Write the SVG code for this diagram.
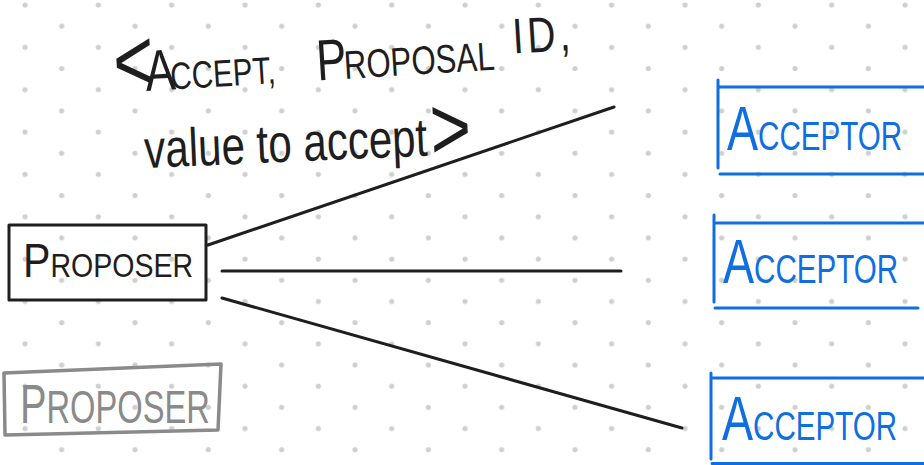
<svg xmlns="http://www.w3.org/2000/svg" width="924" height="465" viewBox="0 0 924 465">
<defs>
<pattern id="dots" x="0" y="0" width="73.333" height="42.353" patternUnits="userSpaceOnUse">
<circle cx="25" cy="5" r="2.6" fill="#cfcfcf"/>
<circle cx="61.667" cy="26.18" r="2.6" fill="#cfcfcf"/>
</pattern>
<style>
.t{font-family:"Liberation Sans",Arial,sans-serif;}
.ink{fill:#1e1e1e}
.gray{fill:#8a8a8a}
.blue{fill:#0f6fe0}
.line{fill:none;stroke-width:3;stroke-linecap:round;stroke-linejoin:round}
.k{stroke:#1e1e1e}
.g{stroke:#8a8a8a;stroke-width:3.5}
.b{stroke:#0f6fe0}
</style>
</defs>
<rect width="924" height="465" fill="#ffffff"/>
<rect width="924" height="465" fill="url(#dots)"/>

<g id="connectors">
<line class="line k" x1="208" y1="245" x2="614" y2="107"/>
<line class="line k" x1="222" y1="271" x2="621" y2="271"/>
<line class="line k" x1="222" y1="298" x2="682" y2="428"/>
</g>

<g id="label">
<text class="t ink" transform="translate(115,93) rotate(-3.5) scale(0.78,1)"><tspan x="0" font-size="90">&lt;</tspan><tspan x="40" font-size="58">A</tspan><tspan x="72" font-size="38">CCEPT,</tspan><tspan x="260" font-size="58">P</tspan><tspan x="295" font-size="40">ROPOSAL</tspan><tspan x="513" dy="-15" font-size="50" letter-spacing="5">ID,</tspan></text>
<text class="t ink" transform="translate(145,168) rotate(-2.5) scale(0.78,1)"><tspan font-size="54">value to accept</tspan><tspan dx="4" dy="4" font-size="90">&gt;</tspan></text>
</g>

<g id="proposer-1">
<rect class="line k" x="9" y="225" width="197" height="75"/>
<text class="t ink" transform="translate(23,277) scale(0.84,1)"><tspan font-size="49">P</tspan><tspan font-size="34">ROPOSER</tspan></text>
</g>

<g id="proposer-2">
<path class="line g" d="M4,373 L221,364 L218,430 L5,435 Z"/>
<text class="t gray" transform="translate(20,423) scale(0.71,1)"><tspan font-size="56">P</tspan><tspan font-size="46">ROPOSER</tspan></text>
</g>

<g id="acceptor-1">
<path class="line b" d="M718,80 L718,168 M718,87 L926,87 M720,174 L926,174"/>
<text class="t blue" transform="translate(727,150) scale(0.74,1)"><tspan font-size="63">A</tspan><tspan font-size="40">CCEPTOR</tspan></text>
</g>

<g id="acceptor-2">
<path class="line b" d="M714,215 L714,302 M716,223 L926,223 M715,308 L918,308"/>
<text class="t blue" transform="translate(723,283) scale(0.74,1)"><tspan font-size="63">A</tspan><tspan font-size="40">CCEPTOR</tspan></text>
</g>

<g id="acceptor-3">
<path class="line b" d="M711,373 L711,459 M713,378 L926,378 M712,463.5 L926,463.5"/>
<text class="t blue" transform="translate(722,440) scale(0.74,1)"><tspan font-size="63">A</tspan><tspan font-size="40">CCEPTOR</tspan></text>
</g>
</svg>
